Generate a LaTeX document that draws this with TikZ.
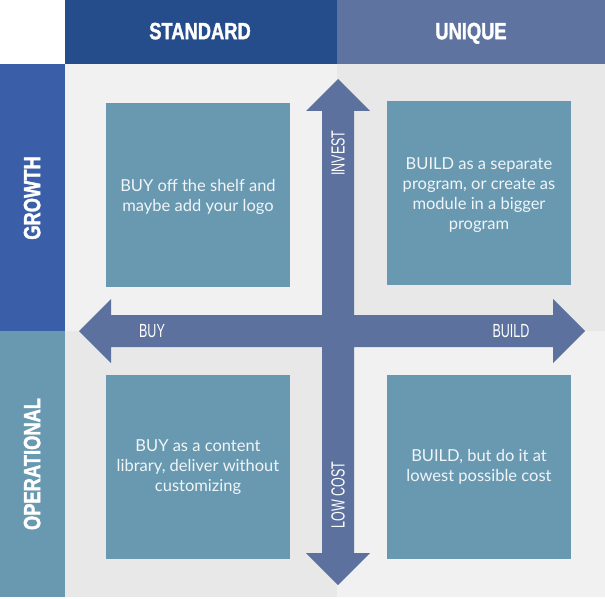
\documentclass[tikz,border=0pt]{standalone}
\usepackage{fontspec}
\setmainfont{Lato}
\newfontfamily\headfont[FakeStretch=0.78,FakeBold=1.5]{Liberation Sans Bold}
\newfontfamily\axisfont[FakeStretch=0.66]{Liberation Sans}
\definecolor{hdstd}{HTML}{264D8B}
\definecolor{hduni}{HTML}{5E73A0}
\definecolor{growth}{HTML}{3B5EA9}
\definecolor{oper}{HTML}{6999B1}
\definecolor{boxc}{HTML}{6999B1}
\definecolor{arrowc}{HTML}{5C719D}
\definecolor{bglight}{HTML}{F1F1F1}
\definecolor{bgdark}{HTML}{E8E8E8}
\tikzset{
  headtxt/.style={text=white,font=\headfont\fontsize{23.5}{24}\selectfont,inner sep=0pt,text depth=0pt},
  sidetxt/.style={headtxt,rotate=90},
  axistxt/.style={text=white,font=\axisfont\fontsize{19}{20}\selectfont,inner sep=0pt,text depth=0pt},
  quad/.style={fill=boxc,draw=none,minimum width=184pt,minimum height=184pt},
  boxtxt/.style={text=white!90!boxc,align=center,font=\fontsize{16.5}{20}\selectfont,inner sep=0pt}
}
\begin{document}
\begin{tikzpicture}[x=1pt,y=-1pt]
\useasboundingbox (0,0) rectangle (605,599);
\fill[white] (0,0) rectangle (605,599);
% header bands
\fill[hdstd] (65,0) rectangle (337,64);
\fill[hduni] (337,0) rectangle (605,64);
% side bands
\fill[growth] (0,64) rectangle (65,331);
\fill[oper] (0,331) rectangle (65,597);
% quadrant backgrounds
\fill[bglight] (65,64) rectangle (337,331);
\fill[bgdark] (337,64) rectangle (605,331);
\fill[bgdark] (65,331) rectangle (337,597);
\fill[bglight] (337,331) rectangle (605,597);
% boxes
\node[quad] (tl) at (198,195) {};
\node[quad] (tr) at (479,193) {};
\node[quad] (bl) at (198,467) {};
\node[quad] (br) at (479,467) {};
% cross arrows
\fill[arrowc] (338,79) -- (370,111) -- (354,111) -- (354,315) -- (553,315) -- (553,299)
  -- (585,331) -- (553,363) -- (553,347) -- (354,347) -- (354,553) -- (370,553)
  -- (338,585) -- (306,553) -- (322,553) -- (322,347) -- (111,347) -- (111,363)
  -- (79,331) -- (111,299) -- (111,315) -- (322,315) -- (322,111) -- (306,111) -- cycle;
% header texts
\node[headtxt] (std) at (200,31) {STANDARD};
\node[headtxt] (uni) at (471,31) {UNIQUE};
\node[sidetxt] (gro) at (32,198) {GROWTH};
\node[sidetxt] (ope) at (32,464) {OPERATIONAL};
% axis texts
\node[axistxt,rotate=90] (inv) at (338,153) {INVEST};
\node[axistxt,rotate=90] (low) at (338,495) {LOW COST};
\node[axistxt] (buy) at (152,331) {BUY};
\node[axistxt] (bld) at (511,331) {BUILD};
% box texts
\node[boxtxt] (tlt) at ([yshift=-2pt]tl.center) {BUY off the shelf and\\maybe add your logo};
\node[boxtxt] (trt) at ([yshift=-2pt]tr.center) {BUILD as a separate\\program, or create as\\module in a bigger\\program};
\node[boxtxt] (blt) at (bl.center) {BUY as a content\\library, deliver without\\customizing};
\node[boxtxt] (brt) at (br.center) {BUILD, but do it at\\lowest possible cost};
\end{tikzpicture}
\end{document}
